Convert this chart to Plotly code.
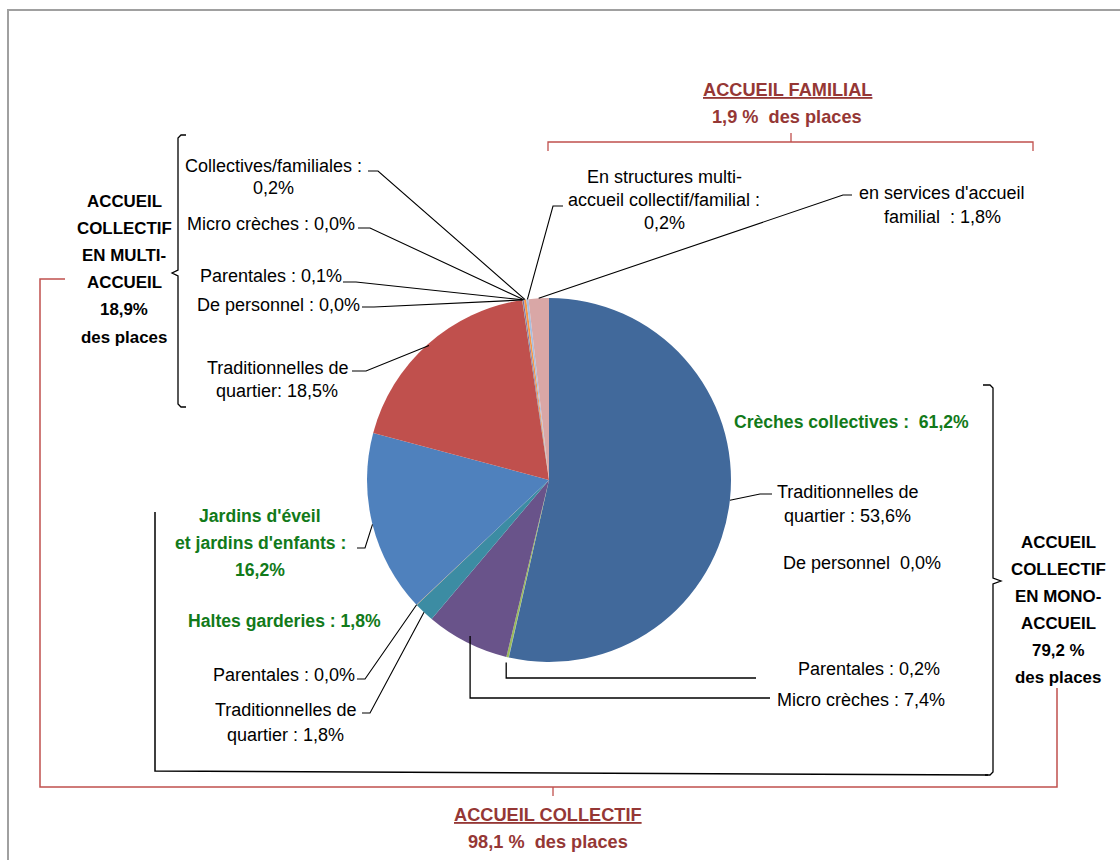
import math
import plotly.graph_objects as go

# ---------------- data ----------------
slice_names = [
    "Crèches collectives - Traditionnelles de quartier",
    "Crèches collectives - De personnel",
    "Crèches collectives - Parentales",
    "Crèches collectives - Micro crèches",
    "Haltes garderies - Traditionnelles de quartier",
    "Haltes garderies - Parentales",
    "Jardins d'éveil et jardins d'enfants",
    "Multi-accueil - Traditionnelles de quartier",
    "Multi-accueil - De personnel",
    "Multi-accueil - Parentales",
    "Multi-accueil - Micro crèches",
    "Multi-accueil - Collectives/familiales",
    "Accueil familial - En structures multi-accueil",
    "Accueil familial - En services d'accueil familial",
]
# percent of places (0,0% slices estimated as a tiny share so they stay visible)
slice_values = [53.6, 0.03, 0.2, 7.4, 1.8, 0.03, 16.2, 18.5, 0.03, 0.1, 0.03, 0.2, 0.2, 1.8]
slice_colors = ["#41699B", "#4F81BD", "#9BBB59", "#69538A", "#3C8CA3", "#F79646",
                "#4F81BD", "#C0504D", "#9BBB59", "#8064A2", "#4BACC6", "#F79646",
                "#A7BFE0", "#D9A7A6"]

W, H = 1120, 860
CX, CY, R = 549, 480, 182          # pie geometry in pixels

FONT = "Liberation Sans, Arial, sans-serif"
BLACK = "#000000"
GREEN = "#127A1A"
DKRED = "#953735"
RED = "#C0504D"

total = sum(slice_values)


def slice_point(i, rf=1.0):
    mid = sum(slice_values[:i]) + slice_values[i] / 2.0
    ang = 2 * math.pi * mid / total
    return CX + R * rf * math.sin(ang), CY - R * rf * math.cos(ang)


fig = go.Figure()
fig.add_trace(go.Pie(
    labels=slice_names, values=slice_values, sort=False, direction="clockwise",
    rotation=0, marker=dict(colors=slice_colors, line=dict(width=0)),
    textinfo="none", hoverinfo="label+percent", showlegend=False,
    domain=dict(x=[(CX - R) / W, (CX + R) / W], y=[1 - (CY + R) / H, 1 - (CY - R) / H]),
))

annotations = []


def text_block(lines, cx, y0, step, size, color, bold=False, underline_first=False):
    for k, t in enumerate(lines):
        s = t
        if bold:
            s = "<b>" + s + "</b>"
        if underline_first and k == 0:
            s = "<u>" + s + "</u>"
        annotations.append(dict(x=cx, y=y0 + k * step, xref="x", yref="y", text=s,
                                showarrow=False, xanchor="center", yanchor="middle",
                                font=dict(family=FONT, size=size, color=color)))


NS = 18     # normal label size
BS = 17.6   # bold green size
HS = 18.2   # red headers
KS = 16.9   # bold black blocks

# left (multi-accueil) labels
text_block(["Collectives/familiales :", "0,2%"], 273, 166, 22, NS, BLACK)
text_block(["Micro crèches : 0,0%"], 271, 224, 22, NS, BLACK)
text_block(["Parentales : 0,1%"], 271, 276, 22, NS, BLACK)
text_block(["De personnel : 0,0%"], 278, 305, 22, NS, BLACK)
text_block(["Traditionnelles de", "quartier: 18,5%"], 277, 368, 23, NS, BLACK)
text_block(["ACCUEIL", "COLLECTIF", "EN MULTI-", "ACCUEIL", "18,9%", "des places"],
           124, 201, 27.2, KS, BLACK, bold=True)

# top (accueil familial)
text_block(["ACCUEIL FAMILIAL", "1,9 %  des places"], 787, 90, 27, HS, DKRED,
           bold=True, underline_first=True)
text_block(["En structures multi-", "accueil collectif/familial :", "0,2%"], 664, 177, 23, NS, BLACK)
text_block(["en services d'accueil", "familial  : 1,8%"], 942, 193, 24, NS, BLACK)

# right (mono-accueil)
text_block(["Crèches collectives :  61,2%"], 851, 422, 22, BS, GREEN, bold=True)
text_block(["Traditionnelles de", "quartier : 53,6%"], 847, 492, 24, NS, BLACK)
text_block(["De personnel  0,0%"], 862, 563, 22, NS, BLACK)
text_block(["Parentales : 0,2%"], 869, 669, 22, NS, BLACK)
text_block(["Micro crèches : 7,4%"], 861, 700, 22, NS, BLACK)
text_block(["ACCUEIL", "COLLECTIF", "EN MONO-", "ACCUEIL", "79,2 %", "des places"],
           1058, 542, 27, KS, BLACK, bold=True)

# lower left
text_block(["Jardins d'éveil", "et jardins d'enfants :", "16,2%"], 260, 516, 27, BS, GREEN, bold=True)
text_block(["Haltes garderies : 1,8%"], 284, 621, 22, BS, GREEN, bold=True)
text_block(["Parentales : 0,0%"], 284, 675, 22, NS, BLACK)
text_block(["Traditionnelles de", "quartier : 1,8%"], 285, 710, 25, NS, BLACK)

# bottom (accueil collectif)
text_block(["ACCUEIL COLLECTIF", "98,1 %  des places"], 548, 815, 27, HS, DKRED,
           bold=True, underline_first=True)

shapes = []


def path(pts, color, width):
    d = "M" + " L".join(f"{x:.1f},{y:.1f}" for x, y in pts)
    shapes.append(dict(type="path", path=d, xref="x", yref="y",
                       line=dict(color=color, width=width), layer="above"))


# leader lines: (slice index, radius fraction, hook points from label)
leaders = [
    (11, 1.0, [(368, 171), (378, 171)]),
    (10, 1.0, [(358, 228), (370, 228)]),
    (9, 1.0, [(343, 282), (356, 282)]),
    (8, 1.0, [(362, 307), (374, 307)]),
    (7, 0.99, [(352, 371), (366, 371)]),
    (12, 1.0, [(563, 206), (553, 206)]),
    (13, 1.0, [(852, 195), (843, 195)]),
    (0, 1.0, [(772, 494), (760, 494)]),
    (6, 1.0, [(357, 548), (365, 548)]),
    (5, 1.0, [(357, 679), (365, 679)]),
    (4, 1.0, [(362, 713), (370, 713)]),
]
for idx, rf, hook in leaders:
    path(hook + [slice_point(idx, rf)], BLACK, 1.1)

# elbow leaders below the pie
px, py = slice_point(2, 1.03)
path([(px, py), (px, 678), (756, 678)], BLACK, 1.3)
mx, my = slice_point(3, 0.96)
path([(mx, my), (mx, 698), (770, 698)], BLACK, 1.3)

# black brackets
path([(186, 135), (181, 135), (178, 138), (178, 270), (172, 273), (178, 276),
      (178, 404), (181, 407), (186, 407)], BLACK, 1.3)
path([(983, 385), (990, 385), (993, 388), (993, 578), (1001, 581), (993, 584),
      (993, 772), (990, 775), (985, 775)], BLACK, 1.3)
path([(155, 512), (155, 771), (988, 775)], BLACK, 1.5)

# red brackets
path([(548, 151), (548, 142), (1033, 142), (1033, 151)], RED, 1.3)
path([(791, 142), (791, 133)], RED, 1.3)
path([(65, 279), (40, 279), (40, 787), (1057, 787), (1057, 688)], RED, 1.5)
path([(553, 787), (553, 796)], RED, 1.3)

# outer frame
path([(8, 860), (8, 10), (1120, 10)], "#A0A0A0", 2)

fig.update_layout(
    width=W, height=H, margin=dict(l=0, r=0, t=0, b=0),
    paper_bgcolor="white", plot_bgcolor="white",
    xaxis=dict(range=[0, W], visible=False, fixedrange=True, domain=[0, 1]),
    yaxis=dict(range=[H, 0], visible=False, fixedrange=True, domain=[0, 1]),
    annotations=annotations, shapes=shapes, showlegend=False,
)

fig.write_html("out.html", config={"displayModeBar": False},
               post_script="document.body.style.margin='0px';")
